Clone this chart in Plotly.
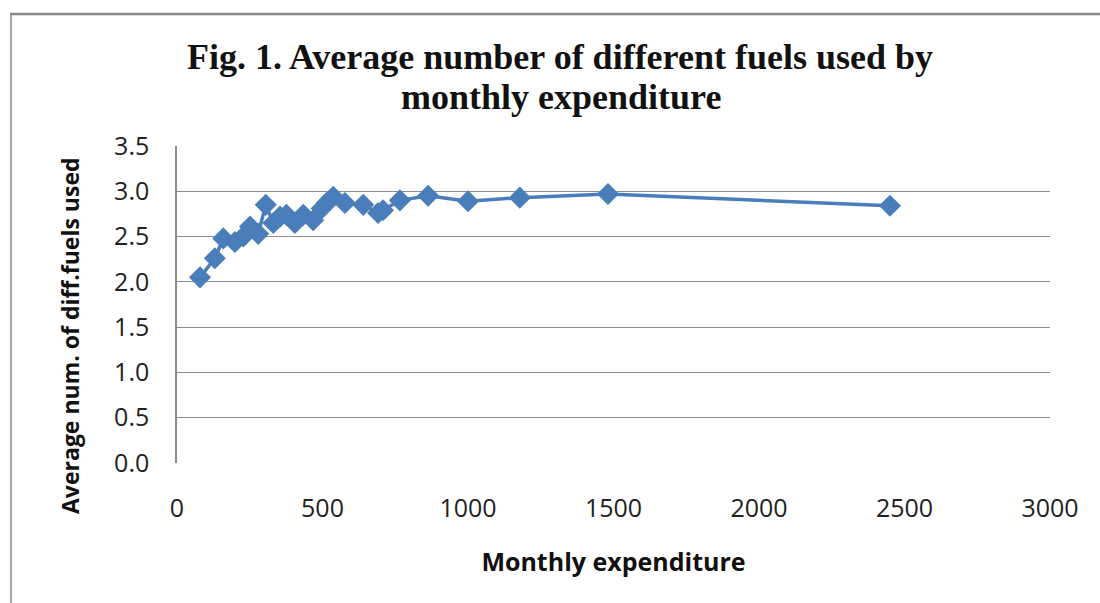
import plotly.graph_objects as go

expenditure = [79, 130, 159, 199, 228, 251, 279, 305, 331, 354, 376, 405, 434, 468,
               497, 514, 537, 577, 640, 691, 708, 766, 863, 1000, 1178, 1481, 2450]
avg_fuels = [2.05, 2.26, 2.48, 2.44, 2.50, 2.61, 2.53, 2.85, 2.65, 2.72, 2.74, 2.65, 2.74, 2.68,
             2.81, 2.87, 2.94, 2.87, 2.85, 2.76, 2.79, 2.90, 2.95, 2.89, 2.93, 2.97, 2.84]

x_ticks = [0, 500, 1000, 1500, 2000, 2500, 3000]
y_ticks = [0.0, 0.5, 1.0, 1.5, 2.0, 2.5, 3.0, 3.5]

title_lines = ["Fig. 1. Average number of different fuels used by", "monthly expenditure"]
x_title = "Monthly expenditure"
y_title = "Average num. of diff.fuels used"

W, H = 1100, 603
L, R, T, B = 177, 1050, 146, 463
pw, ph = R - L, B - T

def px(x):
    return (x - L) / pw

def py(y):
    return (B - y) / ph

color = "#4a7ebb"
fig = go.Figure()
fig.add_trace(go.Scatter(
    x=expenditure, y=avg_fuels, mode="lines+markers",
    line=dict(color=color, width=3.5),
    marker=dict(symbol="diamond", size=17, color=color),
    showlegend=False,
))

fig.update_layout(
    width=W, height=H,
    margin=dict(l=L, r=W - R, t=T, b=H - B),
    paper_bgcolor="white", plot_bgcolor="white",
    xaxis=dict(range=[0, 3000], tickvals=x_ticks, ticktext=[str(v) for v in x_ticks],
               showgrid=False, showline=False, zeroline=False, ticks="",
               tickfont=dict(family="Open Sans", size=25, color="#222"),
               ticklabelstandoff=28,
               title=dict(text=f"<b>{x_title}</b>",
                          font=dict(family="Open Sans", size=25, color="#111"), standoff=30)),
    yaxis=dict(range=[0, 3.5], tickvals=y_ticks, ticktext=[f"{v:.1f}" for v in y_ticks],
               showgrid=True, gridcolor="#8c8c8c", gridwidth=1,
               showline=True, linecolor="#8c8c8c", linewidth=1.5, zeroline=False, ticks="",
               tickfont=dict(family="Open Sans", size=25, color="#222"),
               ticklabelstandoff=21),
    annotations=[
        dict(text=f"<b>{title_lines[0]}</b>", x=px(560), y=py(57), xref="paper", yref="paper",
             showarrow=False, xanchor="center", yanchor="middle",
             font=dict(family="Liberation Serif", size=36, color="#111")),
        dict(text=f"<b>{title_lines[1]}</b>", x=px(561), y=py(97), xref="paper", yref="paper",
             showarrow=False, xanchor="center", yanchor="middle",
             font=dict(family="Liberation Serif", size=36, color="#111")),
        dict(text=f"<b>{y_title}</b>", x=px(70), y=py(336), xref="paper", yref="paper",
             showarrow=False, xanchor="center", yanchor="middle", textangle=-90,
             font=dict(family="Open Sans", size=23, color="#111")),
    ],
    shapes=[
        dict(type="line", xref="paper", yref="paper", x0=px(10), x1=px(1100), y0=py(14), y1=py(14),
             line=dict(color="#888", width=2.5)),
        dict(type="line", xref="paper", yref="paper", x0=px(11), x1=px(11), y0=py(14), y1=py(603),
             line=dict(color="#888", width=1.5)),
    ],
)

fig.write_html("out.html", config={"displayModeBar": False},
               post_script="document.body.style.margin='0';")
